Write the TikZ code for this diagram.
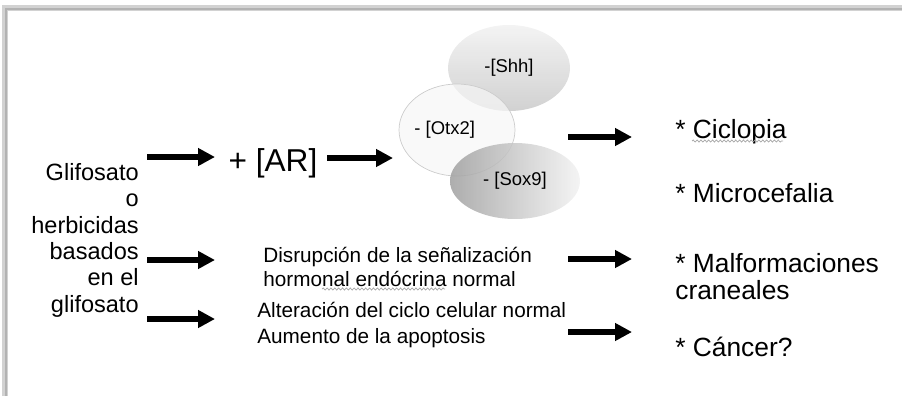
\documentclass[tikz,border=0pt]{standalone}
\usepackage{fontspec}
\setmainfont{Liberation Sans}
\usepackage{tikz}
\usetikzlibrary{
  arrows.meta,
  positioning,
  calc,
  shapes.geometric,
  decorations.pathmorphing,
  shadings}
\tikzset{every picture/.style={font issue=\normalsize},
         font issue/.style={execute at begin picture={#1\selectfont}}
        }

\begin{document}
\begin{tikzpicture}[x=0.02cm, y=-0.02cm,
  bigarrow/.style={line width=3.4pt, -{Triangle[length=9.6pt, width=9.6pt]}},
  gen/.style={ellipse, inner sep=0pt, text opacity=1, font=\fontsize{10.5}{12}\selectfont},
  squiggle/.style={gray!70, line width=0.4pt, decorate,
                   decoration={snake, amplitude=0.6pt, segment length=2.2pt}}]
\useasboundingbox (0,0) rectangle (902,396);

%Frame
\draw[line width=3pt, gray!35] (5,396) -- (5,8) -- (902,8);
\draw[line width=1pt, gray!60] (6,396) -- (6,9) -- (902,9);

%Genes
\node[gen, minimum width=2.44cm, minimum height=1.72cm, shading=axis, shading angle=135,
      top color=gray!10, bottom color=gray!40, fill opacity=0.9, text opacity=1] (shh) at (509,68) {-[Shh]};
\node[gen, minimum width=2.32cm, minimum height=1.84cm, fill=gray!6, fill opacity=0.7,
      text opacity=1, draw=gray!40] (otx) at (457,130) {\hspace*{-14pt}- [Otx2]};
\node[gen, minimum width=2.6cm, minimum height=1.52cm, left color=gray!75, right color=gray!10,
      fill opacity=0.85, text opacity=1] (sox) at (515,181) {\raisebox{-6pt}{- [Sox9]}};

%Left side
\node[anchor=north east, align=right, inner sep=0pt,
      font=\fontsize{13.4}{15}\selectfont] (glif) at (139,163)
      {Glifosato\\o\\herbicidas\\basados\\en el\\glifosato};

\node[font=\fontsize{18}{20}\selectfont] (ar) at (273,163) {+ [AR]};

\coordinate (a1s) at (147,157);
\coordinate (a1e) at (215,157);
\coordinate (a2s) at (327,158);
\coordinate (a2e) at (393,158);
\coordinate (a3s) at (147,260);
\coordinate (a3e) at (215,260);
\coordinate (a4s) at (147,319);
\coordinate (a4e) at (215,319);
\draw[bigarrow] (a1s) -- (a1e);
\draw[bigarrow] (a2s) -- (a2e);
\draw[bigarrow] (a3s) -- (a3e);
\draw[bigarrow] (a4s) -- (a4e);

%Middle
\node[anchor=west, align=left, inner sep=0pt,
      font=\fontsize{11.8}{14}\selectfont] (disr) at (263,267)
      {Disrupción de la señalización\\hormonal endócrina normal};
\node[anchor=west, inner sep=0pt, font=\fontsize{11.8}{14}\selectfont] (alt) at (257,310)
      {Alteración del ciclo celular normal};
\node[anchor=west, inner sep=0pt, font=\fontsize{11.8}{14}\selectfont] (aum) at (257,338)
      {Aumento de la apoptosis};

\coordinate (b1s) at (568,137);
\coordinate (b1e) at (632,137);
\coordinate (b2s) at (568,259);
\coordinate (b2e) at (632,259);
\coordinate (b3s) at (568,332);
\coordinate (b3e) at (632,332);
\draw[bigarrow] (b1s) -- (b1e);
\draw[bigarrow] (b2s) -- (b2e);
\draw[bigarrow] (b3s) -- (b3e);

%Right side
\node[anchor=west, inner sep=0pt, font=\fontsize{15}{17}\selectfont] (cicl) at (675,132)
      {* Ciclopia};
\node[anchor=west, inner sep=0pt, font=\fontsize{15}{17}\selectfont] (micro) at (675,193)
      {* Microcefalia};
\node[anchor=west, align=left, inner sep=0pt,
      font=\fontsize{15}{15.3}\selectfont] (malf) at (675,277)
      {* Malformaciones\\craneales};
\node[anchor=west, inner sep=0pt, font=\fontsize{15}{17}\selectfont] (canc) at (675,347)
      {* Cáncer?};

%Spell marks
\draw[squiggle] (692,141) -- (783,141);
\draw[squiggle] (322,289) -- (445,289);
\end{tikzpicture}
\end{document}
